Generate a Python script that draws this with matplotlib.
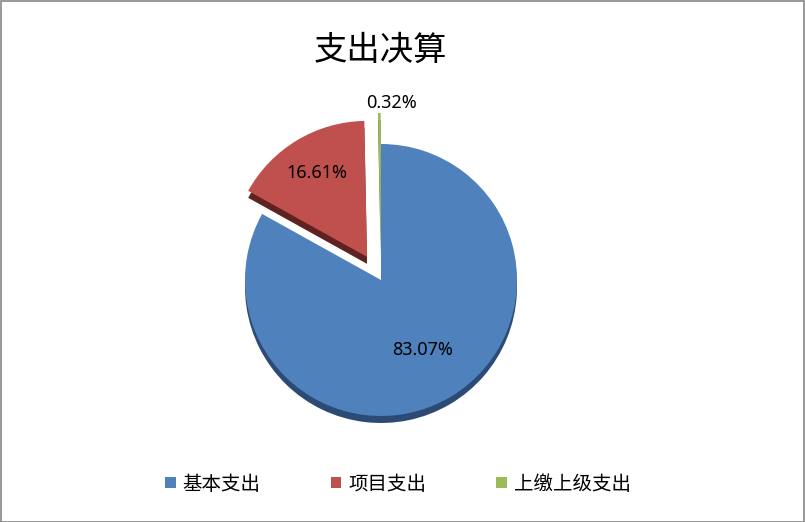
import numpy as np
import matplotlib
matplotlib.use("Agg")
from matplotlib import pyplot as plt
from matplotlib.patches import Rectangle

plt.rcParams['font.family'] = ['Noto Sans CJK SC', 'DejaVu Sans']

# data
title = '支出决算'
categories = ['基本支出', '项目支出', '上缴上级支出']
shares = [83.07, 16.61, 0.32]
pct_labels = ['83.07%', '16.61%', '0.32%']

colors = ['#4F81BD', '#C0504D', '#9BBB59']
dark_colors = ['#2B4B74', '#5E2220', '#5C7432']
# pie explode is in data units here (pixels)
explode = [0, 27, 31]
label_dist = [0.6, 0.72, 1.07]

W, H = 805, 522
fig = plt.figure(figsize=(W / 100, H / 100), dpi=100)
ax = fig.add_axes([0, 0, 1, 1])

cx, cy, r = 381, H - 280, 136

# depth (3D look) drawn first, shifted down
ax.pie(shares, colors=dark_colors, startangle=90, counterclock=False,
       explode=explode, radius=r, center=(cx, cy - 7),
       wedgeprops=dict(linewidth=0), frame=True)
wedges, _ = ax.pie(shares, colors=colors, startangle=90, counterclock=False,
                   explode=explode, radius=r, center=(cx, cy),
                   wedgeprops=dict(linewidth=0), frame=True)
ax.set_xlim(0, W)
ax.set_ylim(0, H)
ax.axis('off')

# percentage labels
for w, txt, d in zip(wedges, pct_labels, label_dist):
    ang = np.deg2rad((w.theta1 + w.theta2) / 2)
    wx, wy = w.center
    x = wx + d * r * np.cos(ang)
    y = wy + d * r * np.sin(ang)
    dx = 9 if d > 1 else 0
    ax.annotate(txt, (x, y), xytext=(dx, 0), textcoords='offset points',
                ha='center', va='center', fontsize=13, color='black',
                family=['Noto Sans', 'DejaVu Sans'])

fig.text(380 / W, 1 - 50 / H, title, ha='center', va='center', fontsize=24)

leg = fig.legend(wedges, categories, loc='center', bbox_to_anchor=(398 / W, 1 - 484 / H),
                 ncol=3, frameon=False, fontsize=14, handlelength=0.55,
                 handleheight=0.55, columnspacing=3.6, handletextpad=0.35)

fig.patches.append(Rectangle((0.5 / W, 0.5 / H), 1 - 1.5 / W, 1 - 1.5 / H,
                             transform=fig.transFigure, fill=False,
                             edgecolor='#868686', linewidth=1.2))

fig.savefig('out.png', dpi=100)
